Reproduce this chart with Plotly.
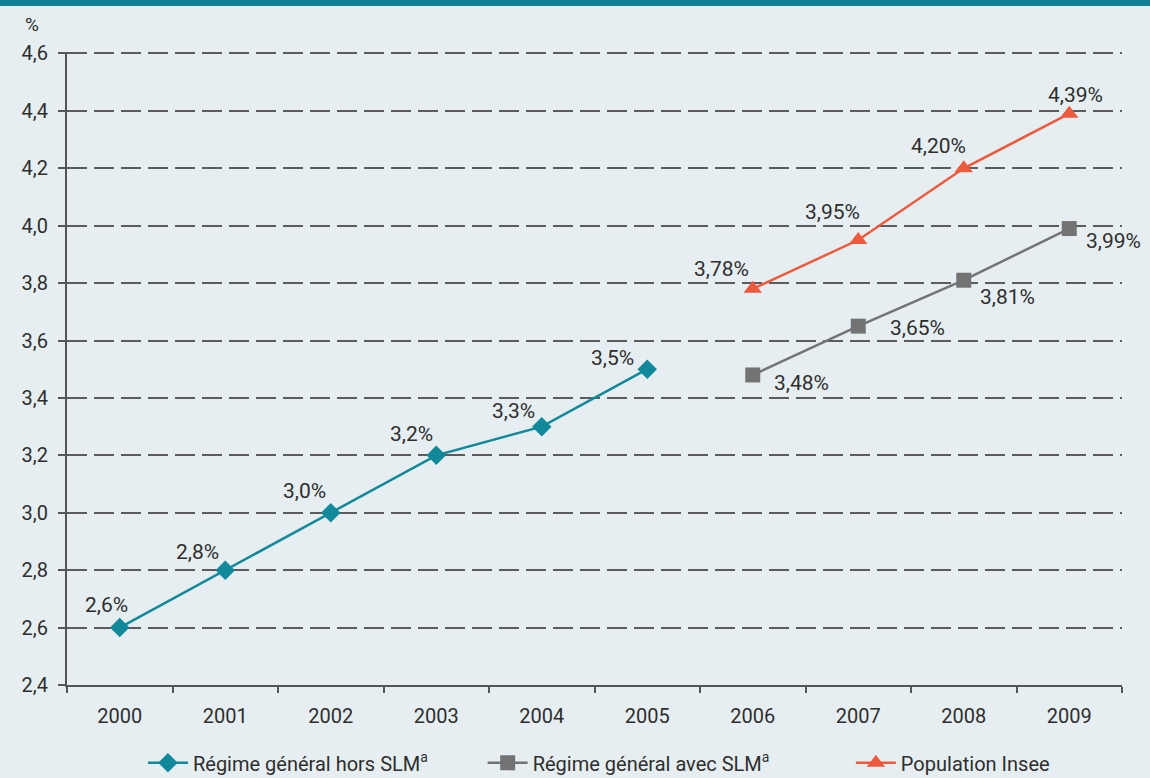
import plotly.graph_objects as go

years = ["2000", "2001", "2002", "2003", "2004", "2005", "2006", "2007", "2008", "2009"]
hors_years = ["2000", "2001", "2002", "2003", "2004", "2005"]
hors_vals = [2.6, 2.8, 3.0, 3.2, 3.3, 3.5]
avec_years = ["2006", "2007", "2008", "2009"]
avec_vals = [3.48, 3.65, 3.81, 3.99]
insee_years = ["2006", "2007", "2008", "2009"]
insee_vals = [3.78, 3.95, 4.20, 4.39]
hors_labels = ["2,6%", "2,8%", "3,0%", "3,2%", "3,3%", "3,5%"]
avec_labels = ["3,48%", "3,65%", "3,81%", "3,99%"]
insee_labels = ["3,78%", "3,95%", "4,20%", "4,39%"]
y_ticks = [2.4, 2.6, 2.8, 3.0, 3.2, 3.4, 3.6, 3.8, 4.0, 4.2, 4.4, 4.6]
y_tick_text = ["2,4", "2,6", "2,8", "3,0", "3,2", "3,4", "3,6", "3,8", "4,0", "4,2", "4,4", "4,6"]

FONT = "Roboto, sans-serif"
TEAL = "#11899a"
GRAY = "#737373"
RED = "#ee5a3e"
BG = "#e6eef2"
TXT = "#2e2e2e"

fig = go.Figure()
fig.add_trace(go.Scatter(x=hors_years, y=hors_vals, mode="lines+markers",
                         name="Régime général hors SLM<sup>a</sup>", legend="legend",
                         line=dict(color=TEAL, width=2.5),
                         marker=dict(symbol="diamond", size=15, color=TEAL)))
fig.add_trace(go.Scatter(x=avec_years, y=avec_vals, mode="lines+markers",
                         name="Régime général avec SLM<sup>a</sup>", legend="legend2",
                         line=dict(color=GRAY, width=2.5),
                         marker=dict(symbol="square", size=15, color=GRAY)))
fig.add_trace(go.Scatter(x=insee_years, y=insee_vals, mode="lines+markers",
                         name="Population Insee", legend="legend3",
                         line=dict(color=RED, width=2.5),
                         marker=dict(symbol="triangle-up", size=16, color=RED)))

# label offsets (pixels)
hors_off = [(-13, 23), (-28, 18), (-26, 22), (-25, 21), (-28, 16), (-35, 11)]
avec_off = [(49, -8), (59, -2), (44, -17), (44, -12)]
insee_off = [(-31, 20), (-26, 28), (-25, 22), (6, 19)]

for xs, ys, labs, offs in [(hors_years, hors_vals, hors_labels, hors_off),
                           (avec_years, avec_vals, avec_labels, avec_off),
                           (insee_years, insee_vals, insee_labels, insee_off)]:
    for x, y, t, (dx, dy) in zip(xs, ys, labs, offs):
        fig.add_annotation(x=years.index(x), y=y, text=t, showarrow=False,
                           xshift=dx, yshift=dy,
                           font=dict(family=FONT, size=21, color=TXT))

fig.add_annotation(xref="paper", yref="paper", x=-0.025, y=1.022, text="%", showarrow=False,
                   xanchor="right", yanchor="bottom",
                   font=dict(family=FONT, size=19, color=TXT))

leg_common = dict(orientation="h", xanchor="left", y=-0.123, yanchor="middle",
                  font=dict(family=FONT, size=20, color=TXT), itemwidth=40,
                  bgcolor="rgba(0,0,0,0)")

fig.update_layout(
    width=1150, height=778,
    paper_bgcolor=BG, plot_bgcolor=BG,
    margin=dict(l=67, r=28, t=52, b=93, autoexpand=False),
    font=dict(family=FONT, size=20, color=TXT),
    showlegend=True,
    legend=dict(x=0.072, **leg_common),
    legend2=dict(x=0.394, **leg_common),
    legend3=dict(x=0.743, **leg_common),
    xaxis=dict(type="category", categoryorder="array", categoryarray=years,
               range=[-0.5, 9.5], tickson="boundaries", ticks="outside", ticklen=6,
               tickcolor="#555555", tickwidth=2, showgrid=False, showline=True,
               linecolor="#555555", linewidth=2, zeroline=False,
               ticklabelstandoff=12,
               tickfont=dict(family=FONT, size=20, color=TXT)),
    yaxis=dict(range=[2.4, 4.605], tickvals=y_ticks, ticktext=y_tick_text,
               ticks="outside", ticklen=7, tickcolor="#555555", tickwidth=2,
               ticklabelstandoff=6,
               showgrid=True, gridcolor="#5c5c5c", gridwidth=2, griddash="20px,7px",
               showline=True, linecolor="#555555", linewidth=2, zeroline=False,
               tickfont=dict(family=FONT, size=20, color=TXT)),
)

# top teal band
fig.add_shape(type="rect", xref="paper", yref="paper", x0=-0.1, x1=1.1,
              y0=1.0 + 46 / 632, y1=1.0 + 60 / 632, fillcolor="#0e8196", line=dict(width=0),
              layer="above")

fig.write_html("out.html", config={"displayModeBar": False},
               post_script="document.body.style.margin='0';")
